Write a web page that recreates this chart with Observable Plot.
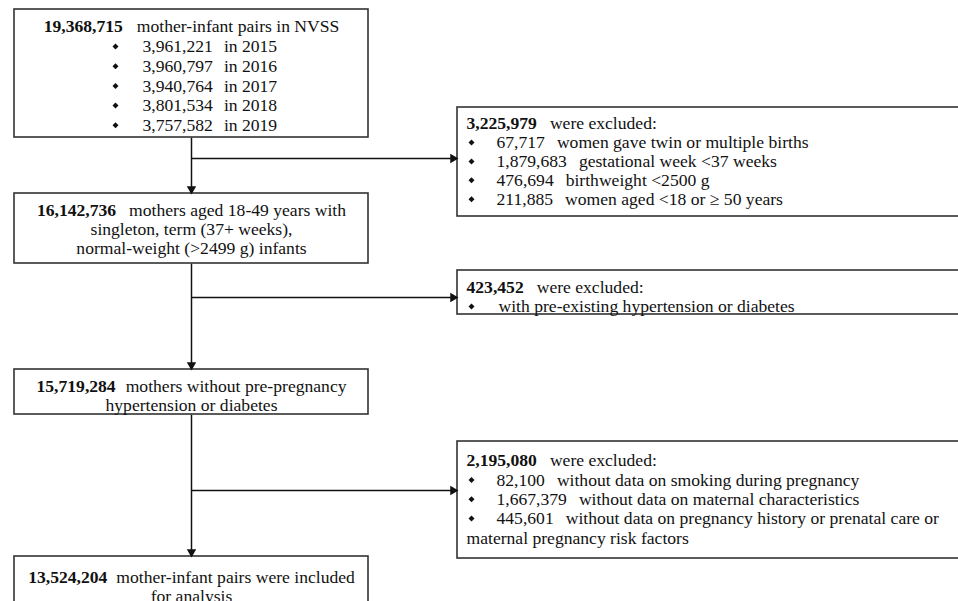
<!DOCTYPE html>
<html><head><meta charset="utf-8">
<script src="https://cdn.jsdelivr.net/npm/d3@7"></script>
<script src="https://cdn.jsdelivr.net/npm/@observablehq/plot@0.6"></script>
<style>html,body{margin:0;padding:0;background:#fff;overflow:hidden}</style>
</head><body><div id="chart"></div>
<script>
// ---------- DATA ----------
const totalCount = "19,368,715";
const totalLabel = "mother-infant pairs in NVSS";
const years = ["2015", "2016", "2017", "2018", "2019"];
const yearCounts = ["3,961,221", "3,960,797", "3,940,764", "3,801,534", "3,757,582"];

const excludedLabel = "were excluded:";
const excl1Count = "3,225,979";
const excl1Counts = ["67,717", "1,879,683", "476,694", "211,885"];
const excl1Reasons = ["women gave twin or multiple births", "gestational week <37 weeks", "birthweight <2500 g", "women aged <18 or \u2265 50 years"];

const step2Count = "16,142,736";
const step2Lines = ["mothers aged 18-49 years with", "singleton, term (37+ weeks),", "normal-weight (>2499 g) infants"];

const excl2Count = "423,452";
const excl2Reasons = ["with pre-existing hypertension or diabetes"];

const step3Count = "15,719,284";
const step3Lines = ["mothers without pre-pregnancy", "hypertension or diabetes"];

const excl3Count = "2,195,080";
const excl3Counts = ["82,100", "1,667,379", "445,601"];
const excl3Reasons = ["without data on smoking during pregnancy", "without data on maternal characteristics", "without data on pregnancy history or prenatal care or"];
const excl3Continuation = "maternal pregnancy risk factors";

const finalCount = "13,524,204";
const finalLines = ["mother-infant pairs were included", "for analysis"];

// ---------- LAYOUT ----------
const W = 958, H = 601;
const FONT = '"Liberation Serif", "Times New Roman", serif';
const FS = 17.6;
const cv = document.createElement("canvas").getContext("2d");
function measure(s, bold) { cv.font = `${bold ? "bold " : ""}${FS}px ${FONT}`; return cv.measureText(s).width; }

const LB = {x1: 14, x2: 368};       // left column boxes
const RB = {x1: 457, x2: 965};      // right column boxes (run off the edge)
const spineX = (LB.x1 + LB.x2) / 2;

const boxes = [
  {...LB, y1: 9, y2: 137},
  {...RB, y1: 107, y2: 216},
  {...LB, y1: 193, y2: 263},
  {...RB, y1: 270, y2: 314},
  {...LB, y1: 369, y2: 414},
  {...RB, y1: 441, y2: 558},
  {...LB, y1: 556, y2: 640}
];
const branchY = [158, 297, 490];

const links = [
  {x1: spineX, y1: boxes[0].y2, x2: spineX, y2: boxes[2].y1},
  {x1: spineX, y1: boxes[2].y2, x2: spineX, y2: boxes[4].y1},
  {x1: spineX, y1: boxes[4].y2, x2: spineX, y2: boxes[6].y1},
  {x1: spineX, y1: branchY[0], x2: RB.x1, y2: branchY[0]},
  {x1: spineX, y1: branchY[1], x2: RB.x1, y2: branchY[1]},
  {x1: spineX, y1: branchY[2], x2: RB.x1, y2: branchY[2]}
];
const HO = 4.5; // arrowhead centre offset from tip
const heads = [
  {x: spineX, y: boxes[2].y1 - HO, rot: 180},
  {x: spineX, y: boxes[4].y1 - HO, rot: 180},
  {x: spineX, y: boxes[6].y1 - HO, rot: 180},
  ...branchY.map(y => ({x: RB.x1 - HO, y, rot: 90}))
];

const boldRows = [], normRows = [], bullets = [];
function centeredMixed(b, t, y, gap) {
  const wb = measure(b, true), wn = measure(t, false);
  const x0 = spineX - (wb + gap + wn) / 2;
  boldRows.push({x: x0, y, t: b});
  normRows.push({x: x0 + wb + gap, y, t});
}
function centered(t, y) { normRows.push({x: spineX - measure(t) / 2, y, t}); }
function header(b, y) {
  boldRows.push({x: 466, y, t: b});
  normRows.push({x: 466 + measure(b, true) + 13, y, t: excludedLabel});
}
function item(count, reason, y) {
  bullets.push({x: 471, y});
  normRows.push({x: 496, y, t: count});
  normRows.push({x: 496 + measure(count) + 12, y, t: reason});
}

// Box 1
centeredMixed(totalCount, totalLabel, 26, 14);
yearCounts.forEach((c, i) => {
  const y = 46 + i * 19.7;
  bullets.push({x: 115, y});
  normRows.push({x: 142, y, t: c});
  normRows.push({x: 142 + measure(c) + 11, y, t: "in " + years[i]});
});
// Box 2
header(excl1Count, 123);
excl1Counts.forEach((c, i) => item(c, excl1Reasons[i], 142 + i * 18.9));
// Box 3
centeredMixed(step2Count, step2Lines[0], 210, 13);
centered(step2Lines[1], 229);
centered(step2Lines[2], 248);
// Box 4
header(excl2Count, 287);
bullets.push({x: 471, y: 306});
normRows.push({x: 498, y: 306, t: excl2Reasons[0]});
// Box 5
centeredMixed(step3Count, step3Lines[0], 386, 10);
centered(step3Lines[1], 405);
// Box 6
header(excl3Count, 460);
excl3Counts.forEach((c, i) => item(c, excl3Reasons[i], 479.5 + i * 19.3));
normRows.push({x: 466, y: 537.5, t: excl3Continuation});
// Box 7
centeredMixed(finalCount, finalLines[0], 577, 9);
centered(finalLines[1], 596);

// ---------- PLOT ----------
const chart = Plot.plot({
  width: W, height: H, margin: 0,
  x: {domain: [0, W], range: [0, W], axis: null},
  y: {domain: [0, H], range: [0, H], axis: null},
  style: {fontFamily: FONT, fontSize: FS + "px", background: "#fff", color: "#111"},
  marks: [
    Plot.link(links, {x1: "x1", y1: "y1", x2: "x2", y2: "y2", stroke: "#111", strokeWidth: 1.5}),
    Plot.rect(boxes, {x1: "x1", x2: "x2", y1: "y1", y2: "y2", fill: "#fff", stroke: "#333", strokeWidth: 1.6}),
    Plot.dot(heads, {x: "x", y: "y", rotate: "rot", symbol: "triangle", r: 3.5, fill: "#111", stroke: "none"}),
    Plot.dot(bullets, {x: "x", y: "y", symbol: "diamond2", r: 2.7, fill: "#111", stroke: "none"}),
    Plot.text(boldRows, {x: "x", y: "y", text: "t", textAnchor: "start", fontWeight: "bold", fontSize: FS, fill: "#111"}),
    Plot.text(normRows, {x: "x", y: "y", text: "t", textAnchor: "start", fontSize: FS, fill: "#111"})
  ]
});
document.getElementById("chart").appendChild(chart);
</script>
</body></html>
